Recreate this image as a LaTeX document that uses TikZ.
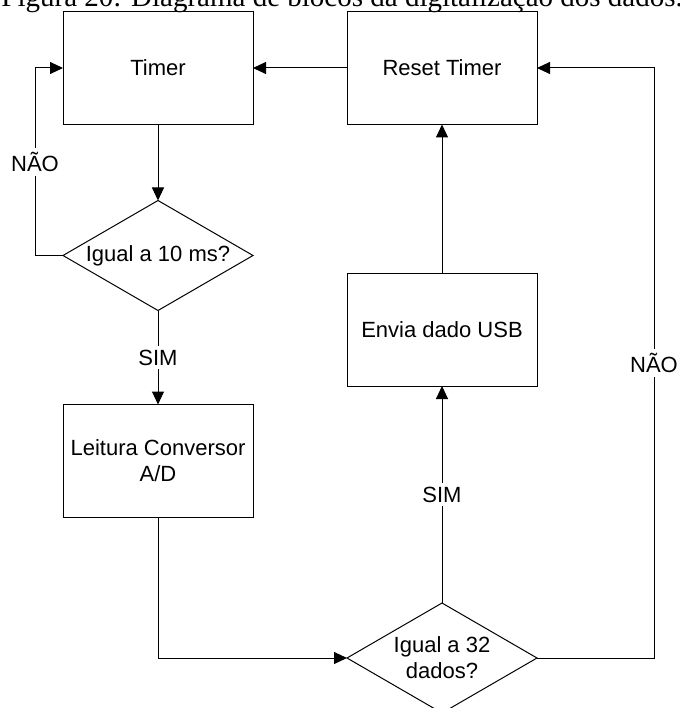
\documentclass[tikz,border=0pt]{standalone}
\usepackage{fontspec}
\setmainfont{Liberation Sans}
\newfontfamily\capfont{Liberation Serif}
\usetikzlibrary{arrows.meta, shapes.geometric}
\tikzset{
  every picture/.style={font=\fontsize{22}{26}\selectfont, line width=1pt},
  blk/.style={draw, align=center, outer sep=0pt, minimum width=190pt, minimum height=113pt},
  dec/.style={draw, diamond, aspect=1.73, align=center, inner sep=0pt, outer sep=0pt, minimum width=190pt, minimum height=110pt},
  arr/.style={-{Triangle[length=13pt, width=12pt]}},
  lab/.style={fill=white, inner sep=4pt},
}

\begin{document}
\begin{tikzpicture}[x=1pt, y=-1pt]
  \useasboundingbox (0,0) rectangle (679,708);
  \clip (0,0) rectangle (679,708);
  \node[anchor=base west, inner sep=0pt, font=\capfont\fontsize{29}{30}\selectfont] (cap) at (1,6.5) {Figura 20: Diagrama de blocos da digitalização dos dados.};
  % timer loop
  \node[blk] (timer) at (158,68) {Timer};
  \node[dec] (d10) at (158,255.5) {Igual a 10 ms?};
  \node[blk] (adc) at (158,461) {Leitura Conversor\\A/D};
  \draw[arr] (timer) -- (d10);
  \draw[arr] (d10.west) -- ++(-28,0) |- node[lab, pos=0.25] {NÃO} (timer.west);
  \draw[arr] (d10) -- node[lab] {SIM} (adc);
  % data count
  \node[dec] (d32) at (442,658) {Igual a 32\\dados?};
  \node[blk] (usb) at (442,329.5) {Envia dado USB};
  \node[blk] (reset) at (442,68) {Reset Timer};
  \draw[arr] (adc.south) |- (d32.west);
  \draw[arr] (d32) -- node[lab] {SIM} (usb);
  \draw[arr] (d32.east) -- ++(117,0) |- node[lab, pos=0.25] {NÃO} (reset.east);
  \draw[arr] (usb) -- (reset);
  \draw[arr] (reset) -- (timer);
\end{tikzpicture}
\end{document}
